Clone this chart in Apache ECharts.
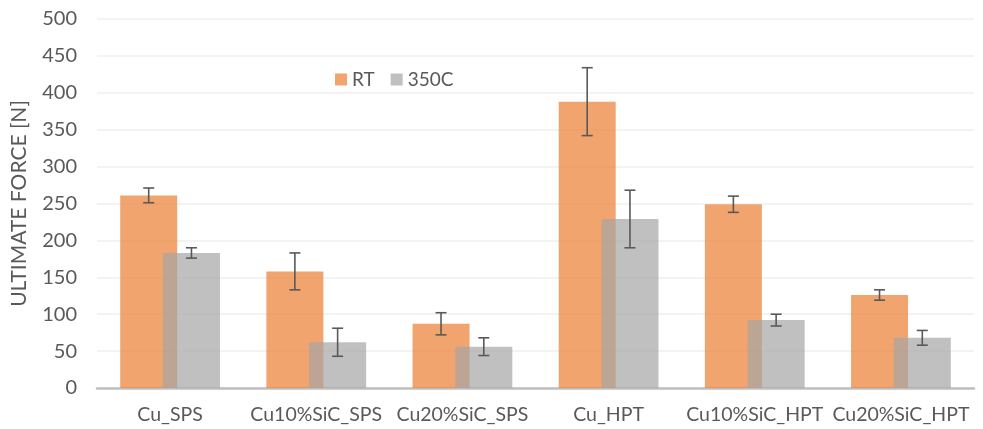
<!DOCTYPE html>
<html>
<head>
<meta charset="utf-8">
<script src="https://cdn.jsdelivr.net/npm/echarts@6/dist/echarts.min.js"></script>
<style>html,body{margin:0;padding:0;background:#fff}#c{width:983px;height:429px}</style>
</head>
<body>
<div id="c"></div>
<script>
const categories = ['Cu_SPS', 'Cu10%SiC_SPS', 'Cu20%SiC_SPS', 'Cu_HPT', 'Cu10%SiC_HPT', 'Cu20%SiC_HPT'];
const rtValues = [261, 158, 87, 388, 249, 126];
const rtErrors = [10, 25, 15, 46, 11, 7];
const hotValues = [183, 62, 56, 229, 92, 68];
const hotErrors = [7, 19, 12, 39, 8, 10];
const yTicks = [0, 50, 100, 150, 200, 250, 300, 350, 400, 450, 500];

const FONT = 'Lato';
const TXT = '#595959';
const BAR_W = 0.39;
const GAP = -0.25;

function errSeries(vals, errs, sign) {
  return {
    type: 'custom',
    z: 10,
    silent: true,
    data: vals.map((v, i) => [i, v - errs[i], v + errs[i]]),
    renderItem: function (params, api) {
      const band = api.size([1, 0])[0];
      const w = band * BAR_W;
      const off = sign * w * (1 + GAP) / 2;
      const lo = api.coord([api.value(0), api.value(1)]);
      const hi = api.coord([api.value(0), api.value(2)]);
      const x = lo[0] + off;
      const cap = 5.5;
      const style = { stroke: '#595959', lineWidth: 1.6 };
      return {
        type: 'group',
        children: [
          { type: 'line', shape: { x1: x, y1: lo[1], x2: x, y2: hi[1] }, style: style },
          { type: 'line', shape: { x1: x - cap, y1: lo[1], x2: x + cap, y2: lo[1] }, style: style },
          { type: 'line', shape: { x1: x - cap, y1: hi[1], x2: x + cap, y2: hi[1] }, style: style }
        ]
      };
    },
    encode: { x: 0, y: [1, 2] }
  };
}

const chart = echarts.init(document.getElementById('c'), null, { renderer: 'canvas' });
chart.setOption({
  animation: false,
  backgroundColor: '#ffffff',
  textStyle: { fontFamily: FONT },
  grid: { left: 97, right: 9, top: 19, bottom: 41, containLabel: false },
  legend: {
    left: 330, top: 65,
    itemWidth: 12, itemHeight: 12, itemGap: 16,
    icon: 'rect',
    data: ['RT', '350C'],
    textStyle: { fontFamily: FONT, fontSize: 19, color: TXT }
  },
  xAxis: {
    type: 'category',
    data: categories,
    axisLine: { lineStyle: { color: '#BFBFBF', width: 2.5 } },
    axisTick: { show: false },
    axisLabel: { fontFamily: FONT, fontSize: 19.5, color: TXT, margin: 17, interval: 0 }
  },
  yAxis: {
    type: 'value',
    min: yTicks[0], max: yTicks[yTicks.length - 1], interval: 50,
    name: 'ULTIMATE FORCE [N]',
    nameLocation: 'middle',
    nameGap: 67,
    nameTextStyle: { fontFamily: FONT, fontSize: 21, color: TXT },
    axisLine: { show: false },
    axisTick: { show: false },
    axisLabel: { fontFamily: FONT, fontSize: 20, color: TXT, margin: 20 },
    splitLine: { lineStyle: { color: '#EFEFEF', width: 1.5 } }
  },
  series: [
    {
      name: 'RT', type: 'bar', data: rtValues,
      barWidth: (BAR_W * 100) + '%', barGap: (GAP * 100) + '%',
      itemStyle: { color: 'rgba(237,125,49,0.7)' }
    },
    {
      name: '350C', type: 'bar', data: hotValues,
      barWidth: (BAR_W * 100) + '%', barGap: (GAP * 100) + '%',
      itemStyle: { color: 'rgba(165,165,165,0.7)' }
    },
    errSeries(rtValues, rtErrors, -1),
    errSeries(hotValues, hotErrors, 1)
  ]
});
</script>
</body>
</html>
